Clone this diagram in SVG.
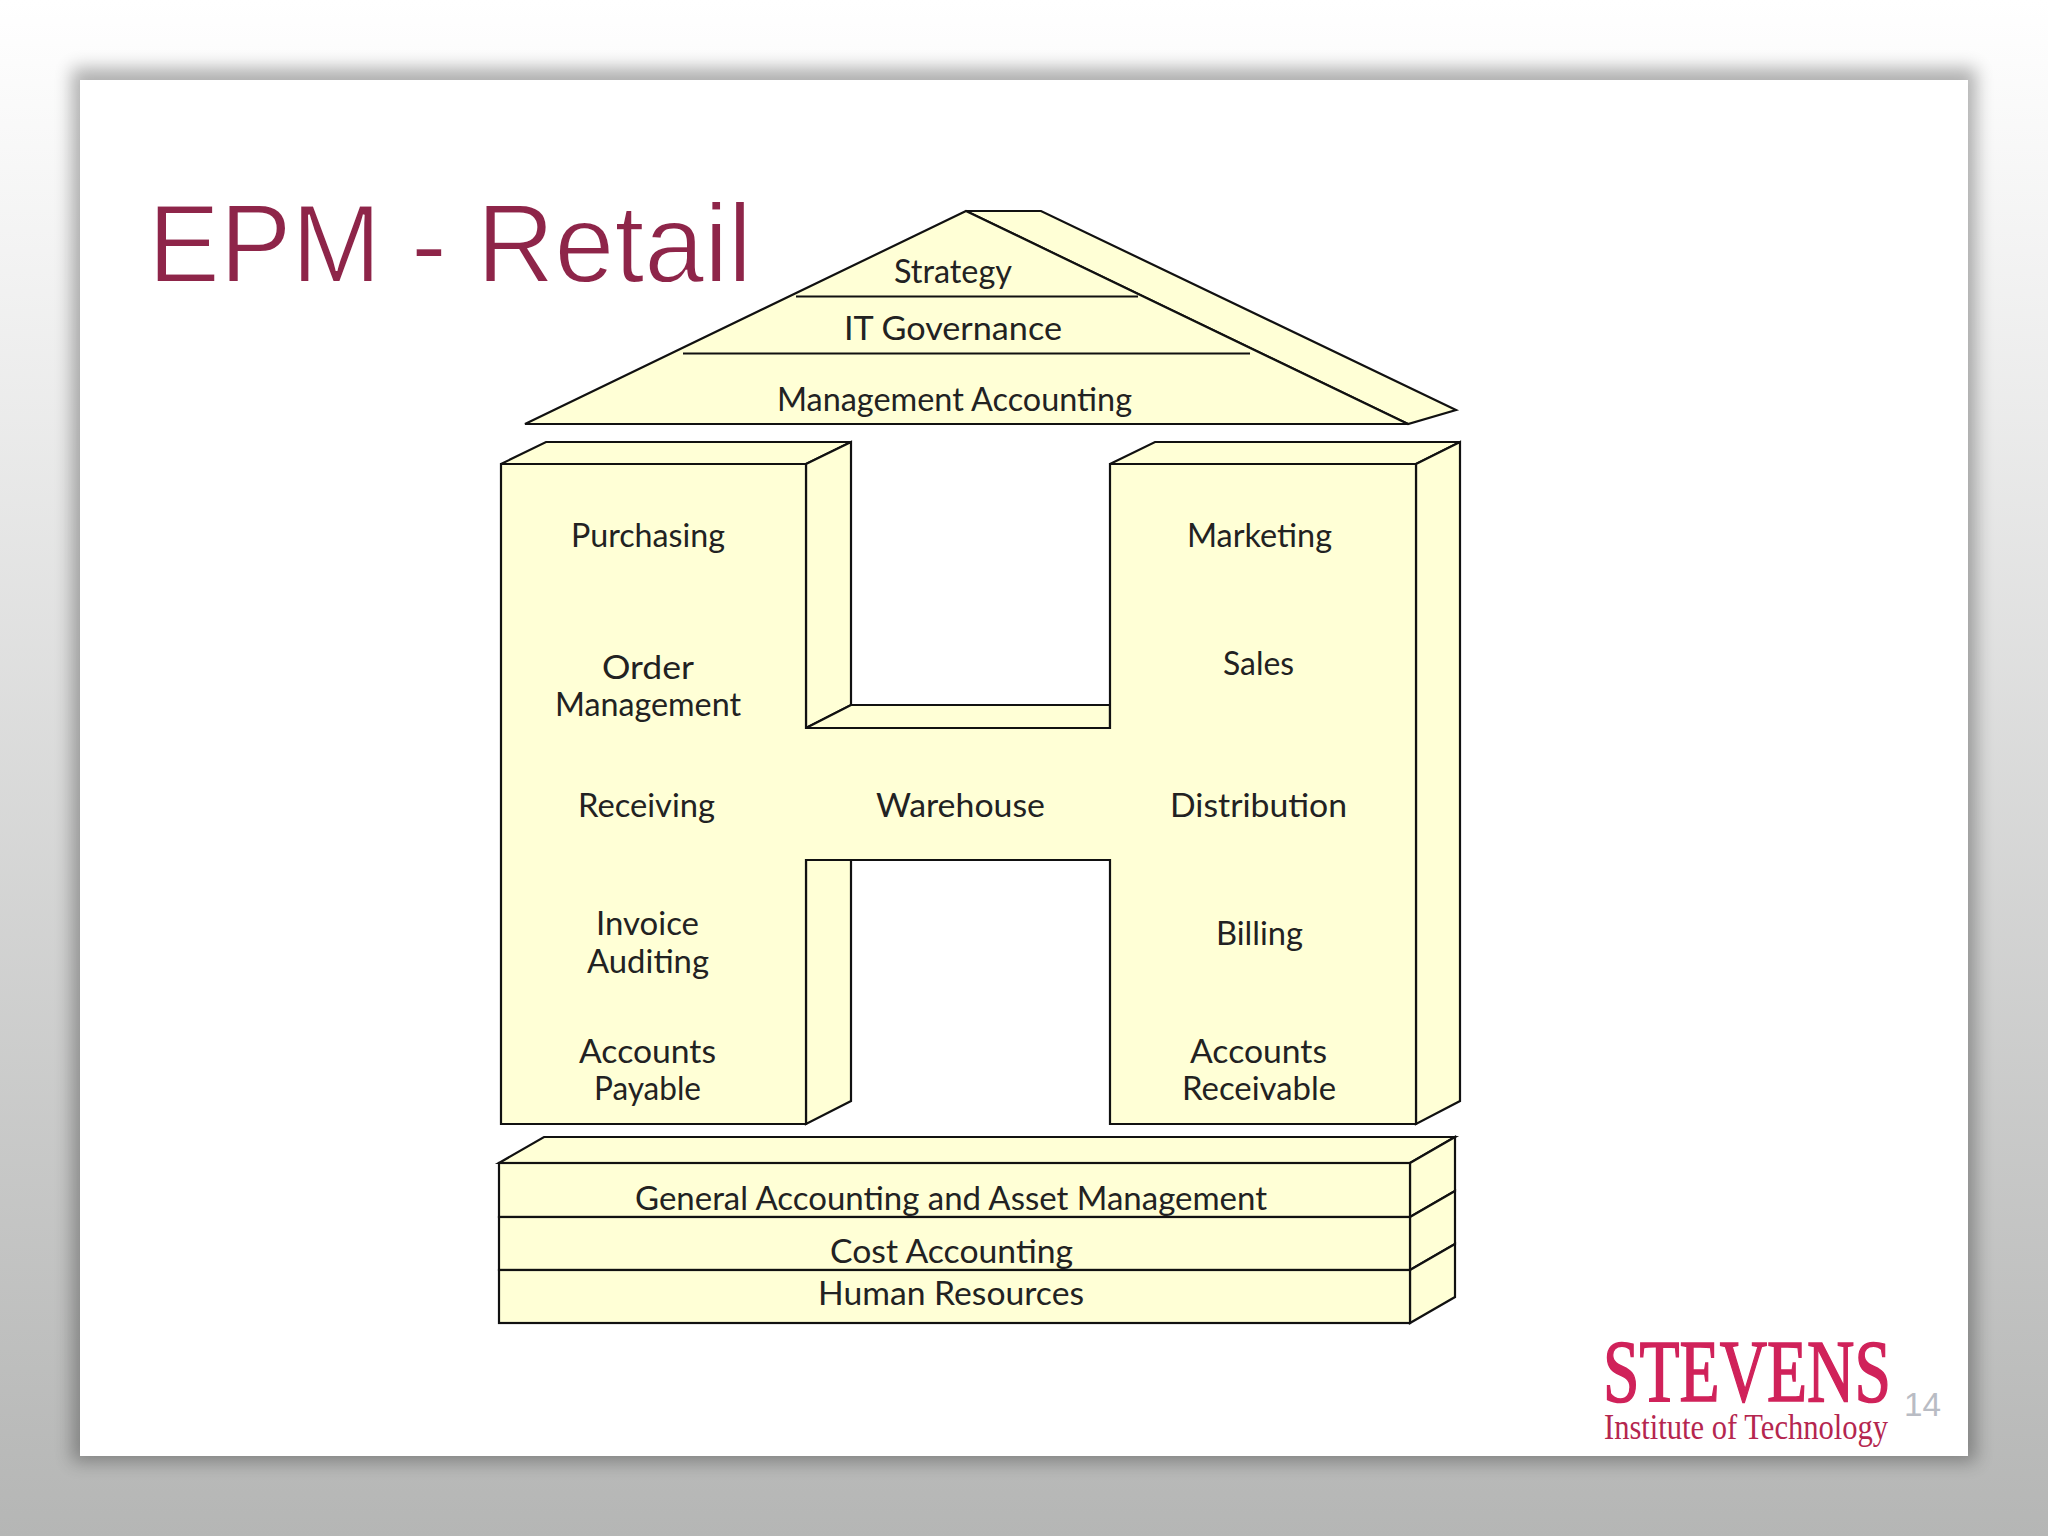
<svg xmlns="http://www.w3.org/2000/svg" width="2048" height="1536" viewBox="0 0 2048 1536">
<style>
.f{fill:#ffffd6;stroke:#111;stroke-width:2.2;stroke-linejoin:miter}
.l{fill:none;stroke:#111;stroke-width:2.2}
.t{font-family:"Lato","Open Sans",sans-serif;font-size:33px;fill:#222;text-anchor:start}
</style>
<defs>
<linearGradient id="bg" x1="0" y1="0" x2="0" y2="1"><stop offset="0" stop-color="#ffffff"/><stop offset="1" stop-color="#b5b6b5"/></linearGradient>
<filter id="sh" x="-5%" y="-5%" width="110%" height="110%"><feGaussianBlur stdDeviation="9"/></filter>
</defs>
<rect width="2048" height="1536" fill="url(#bg)"/>
<rect x="72" y="68" width="1904" height="1394" fill="#000" opacity=".3" filter="url(#sh)"/>
<rect id="slide" x="80" y="80" width="1888" height="1376" fill="#fff"/>
<text id="title" x="148" y="282" textLength="604" lengthAdjust="spacingAndGlyphs" style="font-family:'Liberation Sans',sans-serif;font-size:112px;fill:#8e2549;stroke:#fff;stroke-width:1.8">EPM - Retail</text>
<g id="roof">
<polygon class="f" points="966,211 1041,211 1456,410 1408,424"/>
<polygon class="f" points="966,211 1408,424 525,424"/>
<line class="l" x1="796" y1="296.500" x2="1138" y2="296.500"/>
<line class="l" x1="683" y1="353.500" x2="1250" y2="353.500"/>
<text class="t" x="894" y="283" textLength="118" lengthAdjust="spacingAndGlyphs">Strategy</text>
<text class="t" x="844" y="340" textLength="218" lengthAdjust="spacingAndGlyphs">IT Governance</text>
<text class="t" x="777" y="411" textLength="355" lengthAdjust="spacingAndGlyphs">Management Accounting</text>
</g>
<g id="h-block">
<polygon class="f" points="501,464 546,442 851,442 806,464"/>
<polygon class="f" points="806,464 851,442 851,705 806,728"/>
<polygon class="f" points="806,728 851,705 1110,705 1110,728"/>
<polygon class="f" points="806,860 851,860 851,1101 806,1124"/>
<polygon class="f" points="1110,464 1155,442 1460,442 1416,464"/>
<polygon class="f" points="1416,464 1460,442 1460,1101 1416,1124"/>
<polygon class="f" points="501,464 806,464 806,728 1110,728 1110,464 1416,464 1416,1124 1110,1124 1110,860 806,860 806,1124 501,1124"/>
<text class="t" x="571" y="547" textLength="154" lengthAdjust="spacingAndGlyphs">Purchasing</text>
<text class="t" x="602" y="679" textLength="92" lengthAdjust="spacingAndGlyphs">Order</text>
<text class="t" x="555" y="716" textLength="186" lengthAdjust="spacingAndGlyphs">Management</text>
<text class="t" x="578" y="817" textLength="137" lengthAdjust="spacingAndGlyphs">Receiving</text>
<text class="t" x="596" y="935" textLength="103" lengthAdjust="spacingAndGlyphs">Invoice</text>
<text class="t" x="587" y="973" textLength="122" lengthAdjust="spacingAndGlyphs">Auditing</text>
<text class="t" x="579" y="1063" textLength="137" lengthAdjust="spacingAndGlyphs">Accounts</text>
<text class="t" x="594" y="1100" textLength="107" lengthAdjust="spacingAndGlyphs">Payable</text>
<text class="t" x="876" y="817" textLength="169" lengthAdjust="spacingAndGlyphs">Warehouse</text>
<text class="t" x="1187" y="547" textLength="145" lengthAdjust="spacingAndGlyphs">Marketing</text>
<text class="t" x="1223" y="675" textLength="71" lengthAdjust="spacingAndGlyphs">Sales</text>
<text class="t" x="1170" y="817" textLength="177" lengthAdjust="spacingAndGlyphs">Distribution</text>
<text class="t" x="1216" y="945" textLength="87" lengthAdjust="spacingAndGlyphs">Billing</text>
<text class="t" x="1190" y="1063" textLength="137" lengthAdjust="spacingAndGlyphs">Accounts</text>
<text class="t" x="1182" y="1100" textLength="154" lengthAdjust="spacingAndGlyphs">Receivable</text>
</g>
<g id="base">
<polygon class="f" points="499,1163 544,1137 1455,1137 1410,1163"/>
<polygon class="f" points="1410,1163 1455,1137 1455,1191 1410,1217"/>
<polygon class="f" points="1410,1217 1455,1191 1455,1244 1410,1270"/>
<polygon class="f" points="1410,1270 1455,1244 1455,1297 1410,1323"/>
<rect class="f" x="499" y="1163" width="911" height="54"/>
<rect class="f" x="499" y="1217" width="911" height="53"/>
<rect class="f" x="499" y="1270" width="911" height="53"/>
<text class="t" x="635" y="1210" textLength="632" lengthAdjust="spacingAndGlyphs">General Accounting and Asset Management</text>
<text class="t" x="830" y="1263" textLength="243" lengthAdjust="spacingAndGlyphs">Cost Accounting</text>
<text class="t" x="818" y="1305" textLength="266" lengthAdjust="spacingAndGlyphs">Human Resources</text>
</g>
<g id="logo">
<text transform="translate(1603,1401) scale(.746,1)" textLength="386" lengthAdjust="spacingAndGlyphs" style="font-family:'Liberation Serif',serif;font-size:88px;fill:#d0225a;stroke:#d0225a;stroke-width:1.6">STEVENS</text>
<text transform="translate(1604,1439) scale(.8333,1)" textLength="341" lengthAdjust="spacingAndGlyphs" style="font-family:'Liberation Serif',serif;font-size:36px;fill:#b5264f">Institute of Technology</text>
</g>
<text id="page" x="1904" y="1416" textLength="37" lengthAdjust="spacingAndGlyphs" style="font-family:'Liberation Sans',sans-serif;font-size:33px;fill:#b9bcc4">14</text>
</svg>
